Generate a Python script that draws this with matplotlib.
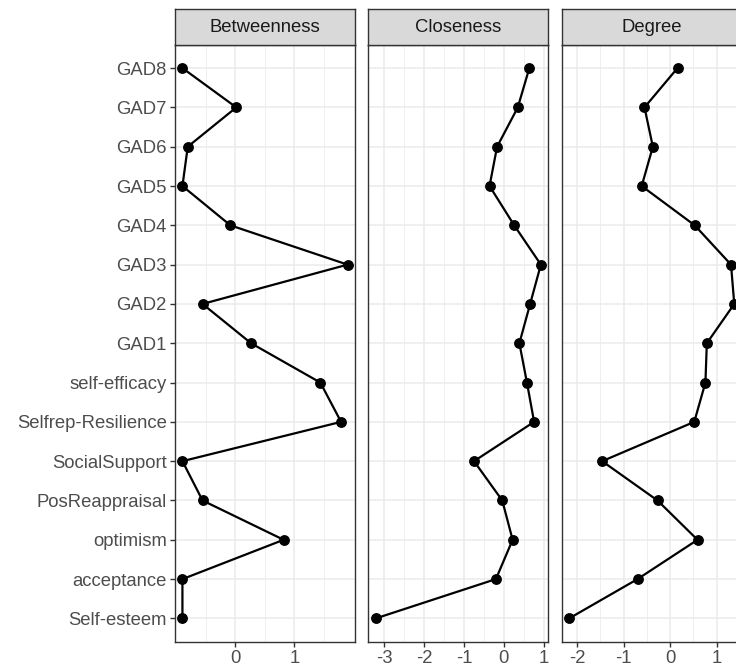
import numpy as np
import matplotlib
matplotlib.use("Agg")
import matplotlib.pyplot as plt

plt.rcParams['font.family'] = ['Liberation Sans', 'DejaVu Sans']

# nodes, listed top to bottom
nodes = ["GAD8", "GAD7", "GAD6", "GAD5", "GAD4", "GAD3", "GAD2", "GAD1",
         "self-efficacy", "Selfrep-Resilience", "SocialSupport",
         "PosReappraisal", "optimism", "acceptance", "Self-esteem"]

betweenness = [-0.89, 0.02, -0.80, -0.89, -0.08, 1.90, -0.55, 0.27,
               1.44, 1.79, -0.89, -0.55, 0.82, -0.89, -0.89]
closeness = [0.64, 0.35, -0.17, -0.36, 0.26, 0.93, 0.66, 0.39,
             0.58, 0.76, -0.75, -0.04, 0.22, -0.20, -3.22]
degree = [0.16, -0.55, -0.37, -0.61, 0.53, 1.31, 1.38, 0.79,
          0.76, 0.52, -1.46, -0.27, 0.59, -0.70, -2.17]

measures = ["Betweenness", "Closeness", "Degree"]
series = [betweenness, closeness, degree]
breaks = [[0, 1], [-3, -2, -1, 0, 1], [-2, -1, 0, 1]]

W, H = 736, 665
fig = plt.figure(figsize=(W / 100, H / 100), dpi=100)

panel_left = [175, 368.3, 561.7]
panel_w = 180
panel_top, panel_bot = 44.5, 642
strip_top = 9

y = np.arange(len(nodes))[::-1]

for i, (name, vals, major) in enumerate(zip(measures, series, breaks)):
    x0 = panel_left[i]
    ax = fig.add_axes([x0 / W, (H - panel_bot) / H, panel_w / W, (panel_bot - panel_top) / H])
    lo, hi = min(vals), max(vals)
    pad = 0.045 * (hi - lo)
    ax.set_xlim(lo - pad, hi + pad)
    ax.set_ylim(-0.6, len(nodes) - 0.4)

    minor = [t + 0.5 for t in range(-5, 4) if lo - pad <= t + 0.5 <= hi + pad]
    ax.set_xticks(major)
    ax.set_xticks(minor, minor=True)
    ax.set_xticklabels([str(t) if t >= 0 else "-" + str(-t) for t in major])
    ax.set_yticks(y)

    ax.grid(True, which='major', color='#EBEBEB', linewidth=1.1, zorder=0)
    ax.grid(True, which='minor', axis='x', color='#EBEBEB', linewidth=0.55, zorder=0)
    ax.set_axisbelow(True)
    ax.tick_params(axis='both', which='major', labelsize=13.3, labelcolor='#4D4D4D',
                   color='#333333', width=1.0, length=3.5, pad=2.5)
    ax.tick_params(axis='x', which='minor', length=0)
    if i == 0:
        ax.set_yticklabels(nodes)
    else:
        ax.set_yticklabels([])
        ax.tick_params(axis='y', length=0)
    for s in ax.spines.values():
        s.set_color('#333333')
        s.set_linewidth(1.0)

    ax.plot(vals, y, color='black', linewidth=1.6, marker='o', markersize=6.8,
            zorder=3)

    # facet strip
    sax = fig.add_axes([x0 / W, (H - panel_top) / H, panel_w / W, (panel_top - strip_top) / H])
    sax.set_facecolor('#D9D9D9')
    sax.set_xticks([])
    sax.set_yticks([])
    for s in sax.spines.values():
        s.set_color('#333333')
        s.set_linewidth(1.0)
    sax.text(0.5, 0.47, name, ha='center', va='center', fontsize=13.3,
             color='#1A1A1A', transform=sax.transAxes)

fig.savefig("out.png", dpi=100)
